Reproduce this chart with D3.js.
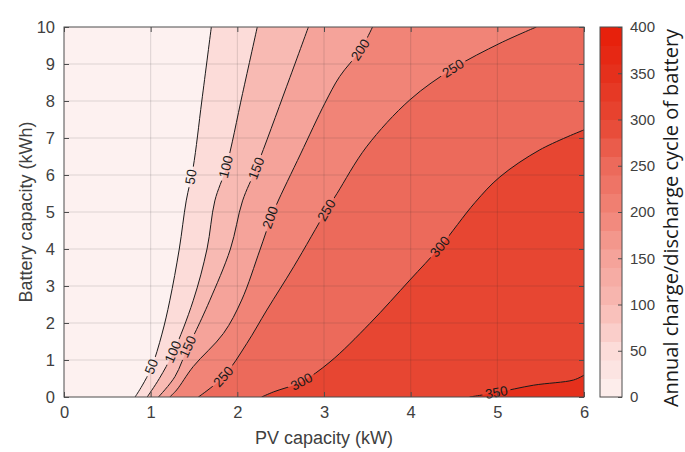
<!DOCTYPE html>
<html>
<head>
<meta charset="utf-8">
<script src="https://cdn.jsdelivr.net/npm/d3@7"></script>
<style>
  html, body { margin: 0; padding: 0; background: #fff; }
  svg { display: block; }
</style>
</head>
<body>
<svg id="chart" width="685" height="452"></svg>
<script>
// Axis ticks
const pvTicks = [0, 1, 2, 3, 4, 5, 6];
const batteryTicks = [0, 1, 2, 3, 4, 5, 6, 7, 8, 9, 10];
const cycleTicks = [0, 50, 100, 150, 200, 250, 300, 350, 400];

// Contour levels (annual cycles) and their iso-lines as [PV kW, battery kWh]
const levels = [50, 100, 150, 200, 250, 300, 350];
const line50  = [[1.70,10],[1.59,8.0],[1.49,6.2],[1.41,5.3],[1.33,4.0],[1.22,2.6],[1.13,1.7],[1.01,0.8],[0.90,0.3],[0.82,0]];
const line100 = [[2.23,10],[2.06,8.2],[1.87,6.2],[1.74,5.3],[1.65,4.0],[1.49,2.6],[1.26,1.2],[1.10,0.5],[0.96,0]];
const line150 = [[2.82,10],[2.57,8.4],[2.22,6.2],[2.06,5.3],[1.92,4.0],[1.68,2.6],[1.51,1.73],[1.43,1.36],[1.28,0.55],[1.09,0]];
const line200 = [[3.56,10],[3.42,9.38],[3.18,8.66],[3.01,7.94],[2.73,6.57],[2.45,5.19],[2.38,4.78],[2.26,3.97],[2.05,2.62],[1.84,1.72],[1.49,0.82],[1.30,0.19],[1.22,0]];
const line250 = [[5.45,10],[5.03,9.56],[4.49,8.88],[3.99,8.03],[3.49,6.76],[3.15,5.5],[3.03,5.05],[2.65,3.52],[2.34,2.35],[2.11,1.45],[1.84,0.55],[1.55,0]];
const line300 = [[6.0,7.22],[5.49,6.68],[5.03,5.95],[4.74,5.25],[4.34,4.06],[3.99,3.16],[3.53,1.99],[3.07,0.95],[2.74,0.41],[2.42,0.14],[2.28,0]];
const line350 = [[6.0,0.59],[5.88,0.46],[5.42,0.32],[4.99,0.12],[4.68,0]];
const contourLines = [line50, line100, line150, line200, line250, line300, line350];

// In-line labels: [level, PV, battery]
const contourLabels = [
  [50, 1.465, 5.95], [50, 1.01, 0.82],
  [100, 1.87, 6.22], [100, 1.26, 1.22],
  [150, 2.22, 6.18], [150, 1.43, 1.36],
  [200, 3.42, 9.38], [200, 2.38, 4.85],
  [250, 4.49, 8.88], [250, 3.03, 5.05], [250, 1.84, 0.55],
  [300, 4.34, 4.06], [300, 2.74, 0.41],
  [350, 4.99, 0.12]
];

// Colour map anchors at 0, 50, ..., 400
const mapLevels = [0, 50, 100, 150, 200, 250, 300, 350, 400];
const mapColors = ["#fdf1f0", "#fcdcd9", "#f8bab3", "#f5a39a", "#f18477", "#ec6a5b", "#e74632", "#e5301c", "#e81d08"];

const svg = d3.select("#chart");
const plot = { left: 64, right: 584, top: 27, bottom: 397 };
const x = d3.scaleLinear().domain([0, 6]).range([plot.left, plot.right]);
const y = d3.scaleLinear().domain([0, 10]).range([plot.bottom, plot.top]);
const color = d3.scaleLinear().domain(mapLevels).range(mapColors).interpolate(d3.interpolateRgb);

const textFont = "'Liberation Sans', Arial, sans-serif";
const tickColor = "#404040";

svg.append("rect").attr("width", 685).attr("height", 452).attr("fill", "#fff");

const defs = svg.append("defs");
defs.append("clipPath").attr("id", "plotClip")
  .append("rect")
  .attr("x", plot.left).attr("y", plot.top)
  .attr("width", plot.right - plot.left).attr("height", plot.bottom - plot.top);

const lineGen = d3.line().x(d => x(d[0])).y(d => y(d[1])).curve(d3.curveCatmullRom.alpha(0.5));

// Filled bands: base colour, then each "value >= level" region on top
const fills = svg.append("g").attr("clip-path", "url(#plotClip)");
fills.append("rect")
  .attr("x", plot.left).attr("y", plot.top)
  .attr("width", plot.right - plot.left).attr("height", plot.bottom - plot.top)
  .attr("fill", color(0));

contourLines.forEach((pts, i) => {
  const corners = pts[0][0] >= 6 ? [[6, 0]] : [[6, 0], [6, 10]];
  const d = lineGen(pts) + corners.map(c => "L" + x(c[0]) + "," + y(c[1])).join("") + "Z";
  fills.append("path").attr("d", d).attr("fill", color(levels[i])).attr("stroke", "none");
});

// Grid
const grid = svg.append("g").attr("stroke", "#262626").attr("stroke-opacity", 0.15).attr("stroke-width", 1);
pvTicks.slice(1, -1).forEach(t => {
  grid.append("line").attr("x1", x(t)).attr("x2", x(t)).attr("y1", plot.top).attr("y2", plot.bottom);
});
batteryTicks.slice(1, -1).forEach(t => {
  grid.append("line").attr("x1", plot.left).attr("x2", plot.right).attr("y1", y(t)).attr("y2", y(t));
});

// Contour labels (drawn first to measure them, lines are masked around them)
const labelG = svg.append("g")
  .attr("font-family", textFont).attr("font-size", 13.5).attr("fill", "#1a1a1a")
  .attr("text-anchor", "middle").attr("dominant-baseline", "central");

const mask = defs.append("mask").attr("id", "labelMask").attr("maskUnits", "userSpaceOnUse")
  .attr("x", 0).attr("y", 0).attr("width", 685).attr("height", 452);
mask.append("rect").attr("width", 685).attr("height", 452).attr("fill", "#fff");

contourLabels.forEach(([lev, pv, b]) => {
  const pts = contourLines[levels.indexOf(lev)];
  const px = x(pv), py = y(b);
  let best = 0, bestD = Infinity;
  pts.forEach((p, k) => {
    const dd = (x(p[0]) - px) ** 2 + (y(p[1]) - py) ** 2;
    if (dd < bestD) { bestD = dd; best = k; }
  });
  const a = pts[Math.max(0, best - 1)], c = pts[Math.min(pts.length - 1, best + 1)];
  let ang = Math.atan2(y(c[1]) - y(a[1]), x(c[0]) - x(a[0])) * 180 / Math.PI;
  if (ang > 90) ang -= 180;
  if (ang < -90) ang += 180;
  const t = labelG.append("text")
    .attr("transform", `translate(${px},${py}) rotate(${ang})`)
    .text(lev);
  const w = t.node().getComputedTextLength();
  mask.append("rect")
    .attr("x", -w / 2 - 3).attr("y", -6).attr("width", w + 6).attr("height", 12)
    .attr("transform", `translate(${px},${py}) rotate(${ang})`)
    .attr("fill", "#000");
});

// Contour lines
const linesG = svg.append("g").attr("clip-path", "url(#plotClip)");
linesG.append("g").attr("mask", "url(#labelMask)")
  .selectAll("path").data(contourLines).join("path")
  .attr("d", lineGen)
  .attr("fill", "none").attr("stroke", "#1a1a1a").attr("stroke-width", 1);
labelG.raise();

// Axes box and inward ticks
const axisColor = "#4d4d4d";
svg.append("rect")
  .attr("x", plot.left).attr("y", plot.top)
  .attr("width", plot.right - plot.left).attr("height", plot.bottom - plot.top)
  .attr("fill", "none").attr("stroke", axisColor).attr("stroke-width", 1);

const tickLen = 5;
const xAxisB = d3.axisBottom(x).tickValues(pvTicks).tickSize(-tickLen).tickPadding(9).tickFormat(d3.format("d"));
const xAxisT = d3.axisTop(x).tickValues(pvTicks).tickSize(-tickLen).tickFormat("");
const yAxisL = d3.axisLeft(y).tickValues(batteryTicks).tickSize(-tickLen).tickPadding(9).tickFormat(d3.format("d"));
const yAxisR = d3.axisRight(y).tickValues(batteryTicks).tickSize(-tickLen).tickFormat("");

function styleAxis(g) {
  g.select(".domain").remove();
  g.selectAll(".tick line").attr("stroke", axisColor);
  g.selectAll(".tick text").attr("fill", tickColor).attr("font-family", textFont).attr("font-size", 16.5);
}
svg.append("g").attr("transform", `translate(0,${plot.bottom})`).call(xAxisB).call(styleAxis);
svg.append("g").attr("transform", `translate(0,${plot.top})`).call(xAxisT).call(styleAxis);
svg.append("g").attr("transform", `translate(${plot.left},0)`).call(yAxisL).call(styleAxis);
svg.append("g").attr("transform", `translate(${plot.right},0)`).call(yAxisR).call(styleAxis);

// Axis titles
svg.append("text")
  .attr("x", (plot.left + plot.right) / 2).attr("y", 444)
  .attr("text-anchor", "middle")
  .attr("font-family", textFont).attr("font-size", 18).attr("fill", tickColor)
  .text("PV capacity (kW)");
svg.append("text")
  .attr("transform", `translate(32,${(plot.top + plot.bottom) / 2}) rotate(-90)`)
  .attr("text-anchor", "middle")
  .attr("font-family", textFont).attr("font-size", 18).attr("fill", tickColor)
  .text("Battery capacity (kWh)");

// Colour bar
const cb = { left: 600, width: 22 };
const cy = d3.scaleLinear().domain([0, 400]).range([plot.bottom, plot.top]);
const cbSteps = d3.range(0, 400, 20);
svg.append("g").selectAll("rect").data(cbSteps).join("rect")
  .attr("x", cb.left).attr("width", cb.width)
  .attr("y", d => cy(d + 20)).attr("height", d => cy(d) - cy(d + 20) + 0.5)
  .attr("fill", d => color(d + 10));
svg.append("rect")
  .attr("x", cb.left).attr("y", plot.top).attr("width", cb.width).attr("height", plot.bottom - plot.top)
  .attr("fill", "none").attr("stroke", axisColor).attr("stroke-width", 1);
const cbAxis = d3.axisRight(cy).tickValues(cycleTicks).tickSize(-4).tickPadding(8).tickFormat(d3.format("d"));
svg.append("g").attr("transform", `translate(${cb.left + cb.width},0)`).call(cbAxis).call(styleAxis)
  .selectAll(".tick text").attr("font-size", 15);

svg.append("text")
  .attr("transform", `translate(678,${(plot.top + plot.bottom) / 2 + 6}) rotate(-90)`)
  .attr("text-anchor", "middle")
  .attr("font-family", "'Open Sans', 'Noto Sans', sans-serif").attr("font-size", 20).attr("fill", "#1a1a1a")
  .text("Annual charge/discharge cycle of battery");
</script>
</body>
</html>
